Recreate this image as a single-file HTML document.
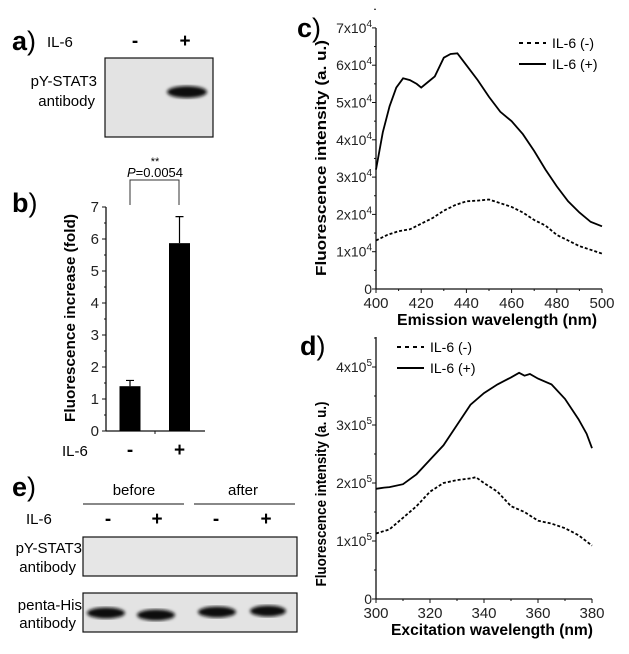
<!DOCTYPE html>
<html><head><meta charset="utf-8"><style>
html,body{margin:0;padding:0;background:#fff;width:629px;height:654px;overflow:hidden}
svg{display:block;font-family:"Liberation Sans",Arial,sans-serif}
</style></head><body>
<svg id="fig" width="629" height="654" viewBox="0 0 629 654">
<defs>
<filter id="blur"><feGaussianBlur stdDeviation="1.6"/></filter>
</defs>
<g>
<text x="12" y="50" font-size="27" font-weight="bold">a<tspan font-weight="normal">)</tspan></text>
<text x="47" y="47" font-size="15">IL-6</text>
<text x="135" y="47" font-size="19" font-weight="bold" text-anchor="middle">-</text>
<text x="185" y="47" font-size="19" font-weight="bold" text-anchor="middle">+</text>
<text x="97" y="86" font-size="15" text-anchor="end">pY-STAT3</text>
<text x="95" y="106" font-size="15" text-anchor="end">antibody</text>
<rect x="105" y="58" width="108" height="79" fill="#e3e3e3" stroke="#111" stroke-width="1.2"/>
<ellipse cx="187" cy="92" rx="20" ry="6" fill="#111" filter="url(#blur)"/>
</g>
<g>
<text x="12" y="496" font-size="27" font-weight="bold">e<tspan font-weight="normal">)</tspan></text>
<text x="134" y="495" font-size="15" text-anchor="middle">before</text>
<text x="243" y="495" font-size="15" text-anchor="middle">after</text>
<line x1="83" y1="504" x2="184" y2="504" stroke="#111"/>
<line x1="194" y1="504" x2="295" y2="504" stroke="#111"/>
<text x="26" y="524" font-size="15">IL-6</text>
<text x="108" y="525" font-size="19" font-weight="bold" text-anchor="middle">-</text>
<text x="157" y="525" font-size="19" font-weight="bold" text-anchor="middle">+</text>
<text x="216" y="525" font-size="19" font-weight="bold" text-anchor="middle">-</text>
<text x="266" y="525" font-size="19" font-weight="bold" text-anchor="middle">+</text>
<text x="82" y="553" font-size="15" text-anchor="end">pY-STAT3</text>
<text x="76" y="572" font-size="15" text-anchor="end">antibody</text>
<rect x="83" y="537" width="214" height="39" fill="#e6e6e6" stroke="#111" stroke-width="1.2"/>
<text x="82" y="610" font-size="15" text-anchor="end">penta-His</text>
<text x="76" y="628" font-size="15" text-anchor="end">antibody</text>
<rect x="83" y="593" width="214" height="39" fill="#e3e3e3" stroke="#111" stroke-width="1.2"/>
<ellipse cx="106" cy="613" rx="19" ry="5.5" fill="#111" filter="url(#blur)"/>
<ellipse cx="156" cy="615" rx="19" ry="5.5" fill="#111" filter="url(#blur)"/>
<ellipse cx="217" cy="612" rx="19" ry="5.5" fill="#111" filter="url(#blur)"/>
<ellipse cx="268" cy="611" rx="18" ry="5.5" fill="#111" filter="url(#blur)"/>
</g>
</svg>
<script>
// ---- panel b data ----
var bCats = ['-', '+'];
var bVals = [1.4, 5.87];
var bErr = [0.18, 0.83];
var bTicks = [0,1,2,3,4,5,6,7];
// ---- panel c data ----
var cX = [400,403,406,409,412,415,418,420,423,426,430,433,436,440,445,450,455,460,465,470,475,480,485,490,495,500];
var cPlus = [3.2,4.2,4.9,5.4,5.65,5.6,5.5,5.4,5.55,5.7,6.2,6.3,6.32,6.0,5.6,5.15,4.75,4.5,4.15,3.7,3.2,2.75,2.35,2.05,1.8,1.68];
var cMinusX = [400,405,410,415,420,425,430,435,440,445,450,455,460,465,470,475,480,485,490,495,500];
var cMinus = [1.3,1.45,1.55,1.6,1.75,1.9,2.1,2.25,2.35,2.37,2.4,2.3,2.2,2.05,1.85,1.7,1.45,1.3,1.15,1.05,0.95];
var cXTicks = [400,420,440,460,480,500];
var cYTicks = [0,1,2,3,4,5,6,7];
// ---- panel d data ----
var dX = [300,303,305,310,315,320,325,330,335,340,345,350,353,355,357,360,365,370,375,378,380];
var dPlus = [1.9,1.92,1.93,1.98,2.15,2.4,2.65,3.0,3.35,3.55,3.7,3.82,3.9,3.85,3.88,3.8,3.7,3.45,3.1,2.85,2.6];
var dMinusX = [300,305,310,315,320,325,330,335,337,340,345,350,355,360,365,370,375,380];
var dMinus = [1.13,1.2,1.4,1.6,1.85,2.0,2.05,2.08,2.1,2.0,1.85,1.6,1.5,1.35,1.3,1.22,1.1,0.92];
var dXTicks = [300,320,340,360,380];
var dYTicks = [0,1,2,3,4];

var NS='http://www.w3.org/2000/svg', svg=document.getElementById('fig');
function mk(tag,attrs,parent){var e=document.createElementNS(NS,tag);for(var k in attrs)e.setAttribute(k,attrs[k]);(parent||svg).appendChild(e);return e;}
function txt(s,attrs,parent){var e=mk('text',attrs,parent);e.textContent=s;return e;}

(function(){
var g=mk('g',{});


var y0=431,py=32,ax=106;
function yb(v){return y0-v*py;}
var xs=[130,179.5];
var lb=txt('b',{x:12,y:212,'font-size':27,'font-weight':'bold'},g);

lb.innerHTML='b<tspan font-weight="normal">)</tspan>';
var ya=mk('line',{x1:ax,y1:yb(7),x2:ax,y2:y0,stroke:'#111','stroke-width':1.3},g);

var xa=mk('line',{x1:ax,y1:y0,x2:205,y2:y0,stroke:'#111','stroke-width':1.3},g);

bTicks.forEach(function(t){
 var l=mk('line',{x1:ax-4,y1:yb(t),x2:ax,y2:yb(t),stroke:'#111'},g);
 
 if(t<7){var m=mk('line',{x1:ax-2,y1:yb(t+0.5),x2:ax,y2:yb(t+0.5),stroke:'#111'},g);}
 var tl=txt(String(t),{x:ax-7,y:yb(t)+5,'font-size':15,'text-anchor':'end',fill:'#222'},g);
 
});
mk('line',{x1:155,y1:y0,x2:155,y2:y0+3,stroke:'#111'},g);
bVals.forEach(function(v,i){
 var r=mk('rect',{x:xs[i]-10.5,y:yb(v),width:21,height:y0-yb(v),fill:'#000'},g);
 
 var e=mk('path',{d:'M'+xs[i]+' '+yb(v)+'V'+yb(v+bErr[i])+'M'+(xs[i]-4)+' '+yb(v+bErr[i])+'H'+(xs[i]+4),stroke:'#000','stroke-width':1.2,fill:'none'},g);
 
 var c=txt(bCats[i],{x:xs[i],y:456,'font-size':19,'font-weight':'bold','text-anchor':'middle'},g);
 
});
txt('IL-6',{x:62,y:456,'font-size':15},g);
var t=txt('Fluorescence increase (fold)',{transform:'translate(75,318) rotate(-90)','font-size':15,'font-weight':'bold','text-anchor':'middle',textLength:208,lengthAdjust:'spacingAndGlyphs'},g);

var br=mk('path',{d:'M130 205V180H179V205',stroke:'#333',fill:'none'},g);

txt('**',{x:155,y:165,'font-size':11,'text-anchor':'middle'},g);
var p=txt('',{x:155,y:177,'font-size':13,'text-anchor':'middle'},g);

p.innerHTML='<tspan font-style="italic">P</tspan>=0.0054';
})();

function linePanel(o){
 var g=mk('g',{});
 
 
 function X(v){return o.x0+(v-o.xmin)/(o.xmax-o.xmin)*(o.x1-o.x0);}
 function Y(v){return o.y0-v*o.py;}
 var lt=txt('',{x:o.lx,y:o.ly,'font-size':27,'font-weight':'bold'},g);
 
 lt.innerHTML=o.letter+'<tspan font-weight="normal">)</tspan>';
 mk('line',{x1:o.x0,y1:o.ytop,x2:o.x0,y2:o.y0,stroke:'#111','stroke-width':1.3},g);
 mk('line',{x1:o.x0,y1:o.y0,x2:o.x1,y2:o.y0,stroke:'#111','stroke-width':1.3},g);
 o.yt.forEach(function(t){
  mk('line',{x1:o.x0-4,y1:Y(t),x2:o.x0,y2:Y(t),stroke:'#111'},g);
  var m=mk('line',{x1:o.x0-2,y1:Y(t+0.5),x2:o.x0,y2:Y(t+0.5),stroke:'#111'},g);
  
  var tl=txt('',{x:o.x0-4,y:Y(t)+5,'font-size':14,'text-anchor':'end',fill:'#222'},g);
  
  if(t===0)tl.textContent='0';else tl.innerHTML=t+'x10<tspan dy="-6" font-size="10">'+o.exp+'</tspan>';
 });
 o.xt.forEach(function(t,i){
  mk('line',{x1:X(t),y1:o.y0,x2:X(t),y2:o.y0+4,stroke:'#111'},g);
  if(i<o.xt.length-1){var m=mk('line',{x1:X(t+(o.xt[1]-o.xt[0])/2),y1:o.y0,x2:X(t+(o.xt[1]-o.xt[0])/2),y2:o.y0+2,stroke:'#111'},g);}
  var tl=txt(String(t),{x:X(t),y:o.y0+19,'font-size':15,'text-anchor':'middle',fill:'#222'},g);
  
 });
 txt(o.xtitle,{x:(o.x0+o.x1)/2+8,y:o.y0+36,'font-size':16,'font-weight':'bold','text-anchor':'middle',textLength:o.xtl,lengthAdjust:'spacingAndGlyphs'},g);
 txt('Fluorescence intensity (a. u.)',{transform:'translate('+o.ytx+','+o.ytc+') rotate(-90)','font-size':15,'font-weight':'bold','text-anchor':'middle',textLength:o.ytl,lengthAdjust:'spacingAndGlyphs'},g);
 var d1=o.mx.map(function(v,i){return (i?'L':'M')+X(v).toFixed(1)+' '+Y(o.minus[i]).toFixed(1);}).join('');
 var l1=mk('path',{d:d1,fill:'none',stroke:'#000','stroke-width':1.8,'stroke-dasharray':'3 2'},g);
 
 var d2=o.px.map(function(v,i){return (i?'L':'M')+X(v).toFixed(1)+' '+Y(o.plus[i]).toFixed(1);}).join('');
 var l2=mk('path',{d:d2,fill:'none',stroke:'#000','stroke-width':1.8},g);
 
 var lg=mk('g',{},g);
 
 
 var a=mk('line',{x1:o.lgx,y1:o.lgy,x2:o.lgx+27,y2:o.lgy,stroke:'#000','stroke-width':2,'stroke-dasharray':'4 4'},lg);
 
 txt('IL-6 (-)',{x:o.lgx+33,y:o.lgy+5,'font-size':14},lg);
 var b=mk('line',{x1:o.lgx,y1:o.lgy+21,x2:o.lgx+27,y2:o.lgy+21,stroke:'#000','stroke-width':2},lg);
 
 txt('IL-6 (+)',{x:o.lgx+33,y:o.lgy+26,'font-size':14},lg);
}
linePanel({name:'panel-c',letter:'c',lx:297,ly:37,x0:376,x1:602,xmin:400,xmax:500,y0:289,py:37.3,ytop:28,exp:'4',
 yt:cYTicks,xt:cXTicks,px:cX,plus:cPlus,mx:cMinusX,minus:cMinus,xtitle:'Emission wavelength (nm)',xtl:200,ytx:326,ytc:158,ytl:236,lgx:519,lgy:43});
linePanel({name:'panel-d',letter:'d',lx:300,ly:355,x0:376,x1:592,xmin:300,xmax:380,y0:599,py:58,ytop:337,exp:'5',
 yt:dYTicks,xt:dXTicks,px:dX,plus:dPlus,mx:dMinusX,minus:dMinus,xtitle:'Excitation wavelength (nm)',xtl:202,ytx:326,ytc:494,ytl:185,lgx:397,lgy:347});
</script>
</body></html>
